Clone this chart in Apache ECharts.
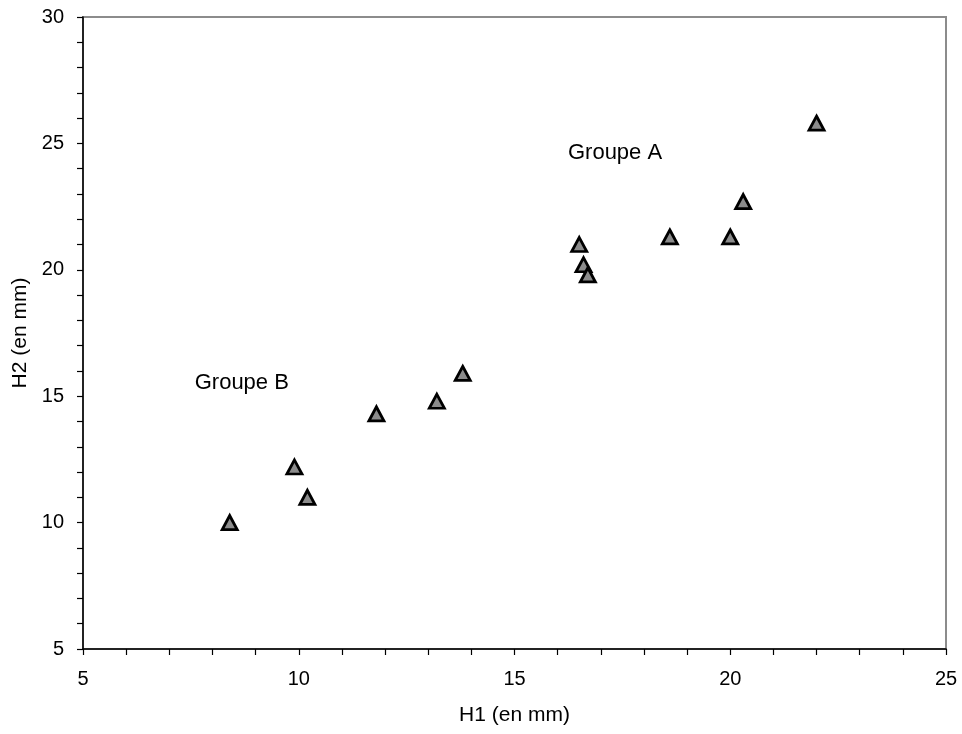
<!DOCTYPE html>
<html><head><meta charset="utf-8">
<script src="https://cdn.jsdelivr.net/npm/echarts@6/dist/echarts.min.js"></script>
<style>html,body{margin:0;padding:0;background:#fff}#c{width:962px;height:734px}</style>
</head><body><div id="c"></div>
<script>
const h1 = [8.4, 9.9, 10.2, 11.8, 13.2, 13.8, 16.5, 16.6, 16.7, 18.6, 20.0, 20.3, 22.0];
const h2 = [10.0, 12.2, 11.0, 14.3, 14.8, 15.9, 21.0, 20.2, 19.8, 21.3, 21.3, 22.7, 25.8];
const groupLabels = ['Groupe A', 'Groupe B'];
const groupLabelX = [17.33, 8.68];
const groupLabelY = [24.62, 15.52];
const xTicks = [5, 10, 15, 20, 25];
const yTicks = [5, 10, 15, 20, 25, 30];

const font = 'Liberation Sans, Arial, sans-serif';
const chart = echarts.init(document.getElementById('c'));
chart.setOption({
  animation: false,
  grid: {left: 83, right: 16, top: 17, bottom: 85, show: true, borderColor: '#8c8c8c', borderWidth: 2, backgroundColor: 'transparent'},
  xAxis: {
    type: 'value', min: xTicks[0], max: xTicks[xTicks.length - 1], interval: 1,
    name: 'H1 (en mm)', nameLocation: 'middle', nameGap: 56,
    nameTextStyle: {fontFamily: font, fontSize: 21, color: '#000'},
    axisLine: {show: true, lineStyle: {color: '#000', width: 1.5}},
    axisTick: {show: true, inside: false, length: 6, lineStyle: {color: '#000', width: 1.2}},
    axisLabel: {fontFamily: font, fontSize: 20, color: '#000', margin: 20,
      formatter: v => xTicks.includes(v) ? String(v) : ''},
    splitLine: {show: false}
  },
  yAxis: {
    type: 'value', min: yTicks[0], max: yTicks[yTicks.length - 1], interval: 1,
    name: 'H2 (en mm)', nameLocation: 'middle', nameGap: 48,
    nameTextStyle: {fontFamily: font, fontSize: 21, color: '#000'},
    axisLine: {show: true, lineStyle: {color: '#000', width: 1.5}},
    axisTick: {show: true, inside: false, length: 6, lineStyle: {color: '#000', width: 1.2}},
    axisLabel: {fontFamily: font, fontSize: 20, color: '#000', margin: 19,
      formatter: v => yTicks.includes(v) ? String(v) : ''},
    splitLine: {show: false}
  },
  series: [
    {
      type: 'scatter',
      data: h1.map((x, i) => [x, h2[i]]),
      symbol: 'triangle',
      symbolSize: [15, 14],
      itemStyle: {color: '#8c8c8c', borderColor: '#000', borderWidth: 2.8, opacity: 1},
      z: 5
    },
    {
      type: 'scatter',
      data: groupLabels.map((t, i) => ({value: [groupLabelX[i], groupLabelY[i]], name: t})),
      symbolSize: 0,
      itemStyle: {opacity: 1},
      label: {show: true, position: 'inside', formatter: p => p.name,
        fontFamily: font, fontSize: 22, color: '#000', opacity: 1},
      silent: true
    }
  ]
});
</script></body></html>
